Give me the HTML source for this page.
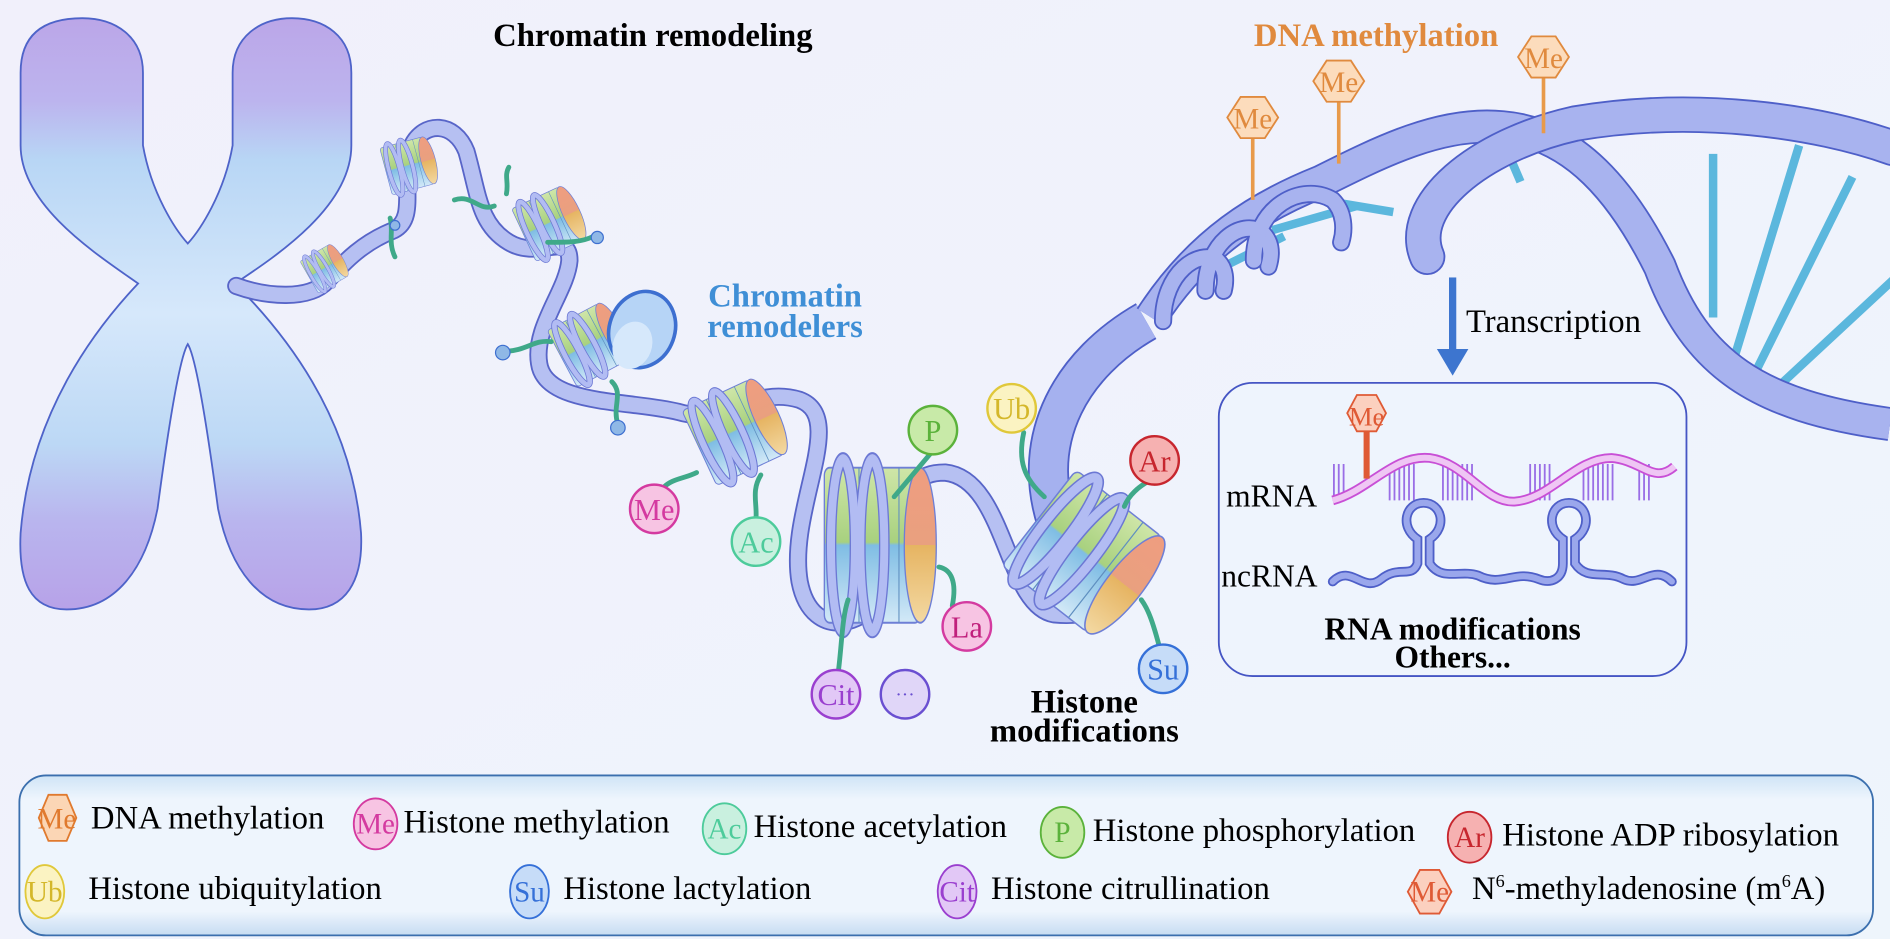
<!DOCTYPE html>
<html><head><meta charset="utf-8"><style>
html,body{margin:0;padding:0;width:1890px;height:939px;overflow:hidden;background:#eef1fb}
svg{display:block}
text{font-family:"Liberation Serif",serif}
</style></head><body>
<svg width="1890" height="939" viewBox="0 0 1560 775" preserveAspectRatio="none" xmlns="http://www.w3.org/2000/svg">
<defs>
<linearGradient id="bg" x1="0" y1="0" x2="1" y2="1"><stop offset="0" stop-color="#f1f0fb"/><stop offset="1" stop-color="#eef5fc"/></linearGradient>
<linearGradient id="chr" x1="0" y1="0" x2="0" y2="1"><stop offset="0" stop-color="#bba6e8"/><stop offset="0.14" stop-color="#bcb4ee"/><stop offset="0.24" stop-color="#b8d6f5"/><stop offset="0.5" stop-color="#d6e8fb"/><stop offset="0.72" stop-color="#bcd8f5"/><stop offset="0.85" stop-color="#b9b5ee"/><stop offset="1" stop-color="#b7a2e8"/></linearGradient>
<linearGradient id="nucg" x1="0" y1="0" x2="0" y2="1"><stop offset="0" stop-color="#cfe6a8"/><stop offset="0.48" stop-color="#a8d17f"/><stop offset="0.5" stop-color="#7fbde4"/><stop offset="1" stop-color="#d3e9f7"/></linearGradient>
<linearGradient id="nucend" x1="0" y1="0" x2="0" y2="1"><stop offset="0" stop-color="#ef9d80"/><stop offset="0.5" stop-color="#e9a07f"/><stop offset="0.5" stop-color="#e6b462"/><stop offset="1" stop-color="#f3d9a3"/></linearGradient>
<linearGradient id="leg" x1="0" y1="0" x2="0" y2="1"><stop offset="0" stop-color="#cfe4f6"/><stop offset="0.15" stop-color="#eef5fd"/><stop offset="0.85" stop-color="#eef5fd"/><stop offset="1" stop-color="#c6dcf2"/></linearGradient>
<g id="nuc">
<rect x="-36" y="-40" width="72" height="80" rx="4" fill="url(#nucg)" stroke="#6e7fd6" stroke-width="1"/>
<g stroke="#5f8fc0" stroke-width="0.8" fill="none"><path d="M-10,-40 V40 M6,-40 V40 M20,-40 V40"/></g>
<ellipse cx="36" cy="0" rx="12" ry="40" fill="url(#nucend)" stroke="#6e7fd6" stroke-width="1"/>
<g fill="none" stroke="#6c78d4" stroke-width="8"><ellipse cx="-22" cy="0" rx="9" ry="44"/><ellipse cx="0" cy="0" rx="9" ry="44"/></g>
<g fill="none" stroke="#b2bcf3" stroke-width="6"><ellipse cx="-22" cy="0" rx="9" ry="44"/><ellipse cx="0" cy="0" rx="9" ry="44"/></g>
</g>
</defs>
<rect width="1560" height="775" fill="url(#bg)"/>

<!-- chromosome -->
<path d="M17,60 C17,25 40,15 68,15 C95,15 118,30 118,60 L118,120 C125,160 145,190 155,201 C165,190 185,160 192,120 L192,60 C192,30 215,15 241,15 C268,15 290,30 290,60 L290,120 C290,170 230,210 194,234 C230,270 290,340 298,440 C300,480 285,503 255,503 C215,503 190,470 180,420 C172,360 162,295 155,284 C148,295 138,360 130,420 C120,470 95,503 55,503 C25,503 15,480 17,440 C25,340 80,270 114,234 C80,210 17,170 17,120 Z" fill="url(#chr)" stroke="#4e63c9" stroke-width="1.5"/>

<!-- chromatin tube -->
<path d="M195,236 C220,245 255,248 270,232 C285,215 300,200 325,190 C345,180 330,150 340,120 C350,100 375,100 385,125 C395,160 395,185 420,200 C445,215 470,190 470,215 C468,240 440,270 445,300 C450,335 520,330 560,340 C600,352 620,318 660,330 C700,345 650,420 660,480 C670,532 722,520 740,470 C758,420 742,390 780,390 C830,395 830,500 870,507 C920,512 952,480 940,442" fill="none" stroke="#5865c8" stroke-width="15" stroke-linecap="round"/>
<path d="M195,236 C220,245 255,248 270,232 C285,215 300,200 325,190 C345,180 330,150 340,120 C350,100 375,100 385,125 C395,160 395,185 420,200 C445,215 470,190 470,215 C468,240 440,270 445,300 C450,335 520,330 560,340 C600,352 620,318 660,330 C700,345 650,420 660,480 C670,532 722,520 740,470 C758,420 742,390 780,390 C830,395 830,500 870,507 C920,512 952,480 940,442" fill="none" stroke="#b6c0f2" stroke-width="12" stroke-linecap="round"/>

<!-- DNA ladder -->
<g stroke="#5bb7dd" stroke-width="7">
<line x1="1414" y1="127" x2="1414" y2="262"/><line x1="1485" y1="120" x2="1430" y2="300"/>
<line x1="1529" y1="146" x2="1448" y2="309"/><line x1="1568" y1="226" x2="1470" y2="317"/>
<line x1="1300" y1="115" x2="1330" y2="160"/><line x1="1240" y1="115" x2="1255" y2="150"/>
<line x1="1050" y1="190" x2="1120" y2="170"/><line x1="1000" y1="225" x2="1060" y2="195"/><line x1="1090" y1="165" x2="1150" y2="175"/>
</g>
<!-- thick tube -->
<path d="M872,430 C850,360 885,300 946,265" fill="none" stroke="#4e5fc8" stroke-width="34"/>
<path d="M872,430 C850,360 885,300 946,265" fill="none" stroke="#a5b1ef" stroke-width="31"/>
<!-- back strand -->
<path d="M950,262 C990,200 1040,170 1090,150 C1140,125 1190,100 1240,105 C1300,110 1340,160 1370,220 C1400,300 1450,335 1560,350" fill="none" stroke="#4e5fc8" stroke-width="28"/>
<path d="M950,262 C990,200 1040,170 1090,150 C1140,125 1190,100 1240,105 C1300,110 1340,160 1370,220 C1400,300 1450,335 1560,350" fill="none" stroke="#a8b3ef" stroke-width="25"/>
<!-- hooks -->
<g fill="none" stroke="#4e5fc8" stroke-width="15" stroke-linecap="round"><path d="M960,265 C960,225 990,205 1005,215 C1012,222 1012,232 1010,240"/><path d="M995,240 C995,200 1025,180 1042,192 C1050,200 1050,210 1047,220"/><path d="M1035,215 C1035,170 1075,150 1100,165 C1110,175 1110,190 1107,200"/></g>
<g fill="none" stroke="#a8b3ef" stroke-width="12" stroke-linecap="round"><path d="M960,265 C960,225 990,205 1005,215 C1012,222 1012,232 1010,240"/><path d="M995,240 C995,200 1025,180 1042,192 C1050,200 1050,210 1047,220"/><path d="M1035,215 C1035,170 1075,150 1100,165 C1110,175 1110,190 1107,200"/></g>
<!-- front strand -->
<path d="M1178,212 C1160,170 1220,120 1300,102 C1400,85 1500,100 1562,122" fill="none" stroke="#4e5fc8" stroke-width="30" stroke-linecap="round"/>
<path d="M1178,212 C1160,170 1220,120 1300,102 C1400,85 1500,100 1562,122" fill="none" stroke="#a8b3ef" stroke-width="27" stroke-linecap="round"/>

<!-- DNA Me -->
<g stroke="#e89a4a" stroke-width="3"><line x1="1034" y1="112" x2="1034" y2="165"/><line x1="1105" y1="82" x2="1105" y2="135"/><line x1="1274" y1="62" x2="1274" y2="110"/></g>
<g fill="#fcdcbc" stroke="#e08a3e" stroke-width="1.5">
<polygon points="1024,80 1044,80 1055,97 1044,114 1024,114 1013,97"/>
<polygon points="1095,50 1115,50 1126,67 1115,84 1095,84 1084,67"/>
<polygon points="1264,30 1284,30 1295,47 1284,64 1264,64 1253,47"/>
</g>
<g fill="#e08a3e" font-size="24" text-anchor="middle"><text x="1034" y="106">Me</text><text x="1105" y="76">Me</text><text x="1274" y="56">Me</text></g>

<!-- nucleosomes -->
<use href="#nuc" transform="translate(267,222) scale(0.38) rotate(-30)"/>
<use href="#nuc" transform="translate(336,137) scale(0.5) rotate(-15)"/>
<use href="#nuc" transform="translate(452,185) scale(0.6) rotate(-25)"/>
<use href="#nuc" transform="translate(485,285) scale(0.66) rotate(-28)"/>
<ellipse cx="530" cy="272" rx="27" ry="32" fill="#b6d4f6" stroke="#3d6fd0" stroke-width="3" transform="rotate(20 530 272)"/>
<ellipse cx="522" cy="285" rx="16" ry="20" fill="#d6e8fb" transform="rotate(20 522 285)"/>
<use href="#nuc" transform="translate(605,357) scale(0.85) rotate(-25)"/>
<use href="#nuc" transform="translate(720,450) scale(1.1,1.6)"/>
<use href="#nuc" transform="translate(893,455) scale(1.25) rotate(38)"/>

<!-- tails -->
<g fill="none" stroke="#3fa989" stroke-width="4" stroke-linecap="round">
<path d="M548,402 C555,395 565,395 575,390"/><path d="M624,428 C625,415 620,405 628,392"/>
<path d="M738,410 L770,372"/><path d="M845,357 C840,380 845,395 862,410"/>
<path d="M948,397 C940,402 932,408 928,418"/><path d="M786,500 C790,480 785,470 775,468"/>
<path d="M692,554 C695,530 695,510 700,495"/><path d="M957,534 C952,515 948,503 942,495"/>
<path d="M326,212 C320,200 325,190 322,180"/><path d="M452,200 C470,200 480,200 490,195"/>
<path d="M415,290 C435,290 440,280 455,282"/><path d="M510,350 C505,335 515,325 505,315"/>
<path d="M375,165 C390,160 395,175 408,170"/><path d="M418,160 C420,150 416,145 420,138"/>
</g>
<g fill="#8fb8e6" stroke="#3d6fd0"><circle cx="326" cy="186" r="4"/><circle cx="493" cy="196" r="5"/><circle cx="415" cy="291" r="6"/><circle cx="510" cy="353" r="6"/></g>

<!-- modification circles -->
<g stroke-width="2">
<circle cx="540" cy="420" r="20" fill="#f7c4e3" stroke="#d43aa0"/>
<circle cx="624" cy="447" r="20" fill="#c9f0df" stroke="#4dcb9b"/>
<circle cx="770" cy="355" r="20" fill="#c8eaa8" stroke="#5bb23b"/>
<circle cx="835" cy="337" r="20" fill="#fbf3c2" stroke="#e0c83a"/>
<circle cx="953" cy="380" r="20" fill="#f6b1b1" stroke="#c7262e"/>
<circle cx="798" cy="517" r="20" fill="#f7c4e3" stroke="#d43aa0"/>
<circle cx="690" cy="573" r="20" fill="#e2c8f6" stroke="#9a3fcf"/>
<circle cx="747" cy="573" r="20" fill="#e0d6f8" stroke="#6a4fd1"/>
<circle cx="960" cy="552" r="20" fill="#c6dcf8" stroke="#3570d8"/>
</g>
<g font-size="25" text-anchor="middle">
<text x="540" y="429" fill="#d43aa0">Me</text><text x="624" y="456" fill="#4dcb9b">Ac</text><text x="770" y="364" fill="#5bb23b">P</text>
<text x="835" y="346" fill="#d4b72a">Ub</text><text x="953" y="389" fill="#c7262e">Ar</text><text x="798" y="526" fill="#c0207c">La</text>
<text x="690" y="582" fill="#9a3fcf">Cit</text><text x="747" y="578" fill="#6a4fd1" font-size="16">···</text><text x="960" y="561" fill="#3570d8">Su</text>
</g>

<!-- labels -->
<g font-weight="bold" font-size="27">
<text x="407" y="38">Chromatin remodeling</text>
<text x="1035" y="38" fill="#e08a3e">DNA methylation</text>
<text x="648" y="253" fill="#3f8fd6" text-anchor="middle">Chromatin</text>
<text x="648" y="278" fill="#3f8fd6" text-anchor="middle">remodelers</text>
<text x="895" y="588" text-anchor="middle">Histone</text>
<text x="895" y="612" text-anchor="middle">modifications</text>
</g>

<!-- transcription -->
<rect x="1196" y="229" width="6" height="62" fill="#3d75cf"/>
<polygon points="1186,288 1212,288 1199,310" fill="#3d75cf"/>
<text x="1210" y="274" font-size="27">Transcription</text>

<!-- RNA box -->
<rect x="1006" y="316" width="386" height="242" rx="28" fill="#eef4fd" stroke="#4555c4" stroke-width="1.5"/>
<g stroke="#9a6ee6" stroke-width="1.5">
<path d="M1101,383 v30 M1105,383 v30 M1109,383 v30 M1147,383 v30 M1151,383 v30 M1155,383 v30 M1159,383 v30 M1163,383 v30 M1167,383 v30 M1191,383 v30 M1195,383 v30 M1199,383 v30 M1203,383 v30 M1207,383 v30 M1211,383 v30 M1215,383 v30 M1263,383 v30 M1267,383 v30 M1271,383 v30 M1275,383 v30 M1279,383 v30 M1307,383 v30 M1311,383 v30 M1315,383 v30 M1319,383 v30 M1323,383 v30 M1327,383 v30 M1331,383 v30 M1353,383 v30 M1357,383 v30 M1361,383 v30"/>
</g>
<path d="M1100,413 C1130,405 1150,375 1180,378 C1210,382 1225,415 1250,414 C1280,412 1300,378 1330,378 C1355,380 1365,400 1382,385" fill="none" stroke="#c84fd6" stroke-width="8"/>
<path d="M1100,413 C1130,405 1150,375 1180,378 C1210,382 1225,415 1250,414 C1280,412 1300,378 1330,378 C1355,380 1365,400 1382,385" fill="none" stroke="#efc6f4" stroke-width="5"/>
<line x1="1128" y1="356" x2="1128" y2="395" stroke="#df5a35" stroke-width="5"/>
<polygon points="1120,326 1136,326 1144,341 1136,356 1120,356 1112,341" fill="#fbd0bf" stroke="#df5a35" stroke-width="1.5"/>
<text x="1128" y="351" fill="#df5a35" font-size="22" text-anchor="middle">Me</text>
<text x="1012" y="418" font-size="26">mRNA</text>
<text x="1008" y="484" font-size="26">ncRNA</text>
<path d="M1100,480 C1115,465 1125,490 1140,478 C1155,466 1165,478 1170,465 L1170,445 C1155,435 1160,415 1175,415 C1190,415 1195,435 1180,445 L1180,465 C1190,480 1205,470 1220,475 C1240,485 1250,470 1270,478 C1280,482 1290,478 1290,465 L1290,445 C1275,435 1280,415 1295,415 C1310,415 1315,435 1300,445 L1300,465 C1310,480 1325,470 1340,478 C1355,485 1365,465 1380,480" fill="none" stroke="#4e5fc8" stroke-width="8" stroke-linecap="round"/>
<path d="M1100,480 C1115,465 1125,490 1140,478 C1155,466 1165,478 1170,465 L1170,445 C1155,435 1160,415 1175,415 C1190,415 1195,435 1180,445 L1180,465 C1190,480 1205,470 1220,475 C1240,485 1250,470 1270,478 C1280,482 1290,478 1290,465 L1290,445 C1275,435 1280,415 1295,415 C1310,415 1315,435 1300,445 L1300,465 C1310,480 1325,470 1340,478 C1355,485 1365,465 1380,480" fill="none" stroke="#9aa7ec" stroke-width="5" stroke-linecap="round"/>
<text x="1199" y="528" font-size="26" font-weight="bold" text-anchor="middle">RNA modifications</text>
<text x="1199" y="551" font-size="26" font-weight="bold" text-anchor="middle">Others...</text>

<!-- legend -->
<rect x="16" y="640" width="1530" height="132" rx="22" fill="url(#leg)" stroke="#3b6fae" stroke-width="1.5"/>
<g font-size="27">
<text x="75" y="684">DNA methylation</text>
<text x="333" y="687">Histone methylation</text>
<text x="622" y="691">Histone acetylation</text>
<text x="902" y="694">Histone phosphorylation</text>
<text x="1240" y="698">Histone ADP ribosylation</text>
<text x="73" y="742">Histone ubiquitylation</text>
<text x="465" y="742">Histone lactylation</text>
<text x="818" y="742">Histone citrullination</text>
<text x="1215" y="742">N<tspan font-size="15" dy="-10">6</tspan><tspan dy="10">-methyladenosine (m</tspan><tspan font-size="15" dy="-10">6</tspan><tspan dy="10">A)</tspan></text>
</g>
<g stroke-width="1.5">
<polygon points="40,656 55,656 63,675 55,694 40,694 32,675" fill="#fbd6b5" stroke="#e07a2e"/>
<ellipse cx="310" cy="680" rx="18" ry="21" fill="#f7c4e3" stroke="#d43aa0"/>
<ellipse cx="598" cy="684" rx="18" ry="21" fill="#c9f0df" stroke="#4dcb9b"/>
<ellipse cx="877" cy="687" rx="18" ry="21" fill="#c8eaa8" stroke="#5bb23b"/>
<ellipse cx="1213" cy="691" rx="18" ry="21" fill="#f6b1b1" stroke="#c7262e"/>
<ellipse cx="37" cy="736" rx="16" ry="22" fill="#fbf3c2" stroke="#e0c83a"/>
<ellipse cx="437" cy="736" rx="16" ry="22" fill="#c6dcf8" stroke="#3570d8"/>
<ellipse cx="790" cy="736" rx="16" ry="22" fill="#e2c8f6" stroke="#9a3fcf"/>
<polygon points="1172,718 1188,718 1198,736 1188,754 1172,754 1162,736" fill="#fbd0bf" stroke="#df5a35"/>
</g>
<g font-size="24" text-anchor="middle">
<text x="47" y="684" fill="#e07a2e">Me</text><text x="310" y="688" fill="#d43aa0">Me</text><text x="598" y="692" fill="#4dcb9b">Ac</text>
<text x="877" y="695" fill="#5bb23b">P</text><text x="1213" y="699" fill="#c7262e">Ar</text><text x="37" y="744" fill="#d4b72a">Ub</text>
<text x="437" y="744" fill="#3570d8">Su</text><text x="790" y="744" fill="#9a3fcf">Cit</text><text x="1180" y="744" fill="#df5a35">Me</text>
</g>
</svg>
</body></html>
